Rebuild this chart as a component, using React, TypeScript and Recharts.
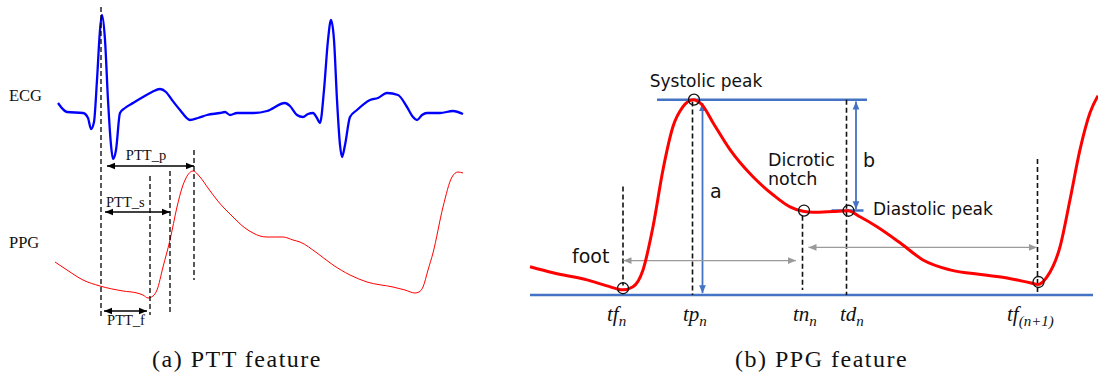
import { LineChart, Line, XAxis, YAxis, ReferenceLine, ReferenceDot } from 'recharts'

// ---------- (a) PTT feature : t in ms, ECG in mV, PPG in a.u.
const ecgData = [
  { t: -172, v: 0.1 }, { t: -136, v: 0.01 }, { t: -72, v: 0.0 }, { t: -52, v: -0.05 }, { t: -40, v: -0.16 },
  { t: -28, v: -0.09 }, { t: -16, v: 0.33 }, { t: -4, v: 0.83 }, { t: 4, v: 0.98 }, { t: 16, v: 0.73 },
  { t: 28, v: 0.13 }, { t: 40, v: -0.32 }, { t: 48, v: -0.46 }, { t: 60, v: -0.37 }, { t: 76, v: 0.0 },
  { t: 96, v: 0.05 }, { t: 128, v: 0.1 }, { t: 168, v: 0.16 }, { t: 204, v: 0.21 }, { t: 236, v: 0.24 },
  { t: 260, v: 0.21 }, { t: 284, v: 0.13 }, { t: 316, v: 0.03 }, { t: 356, v: -0.07 }, { t: 388, v: -0.05 },
  { t: 424, v: -0.02 }, { t: 476, v: 0.0 }, { t: 496, v: 0.01 }, { t: 516, v: -0.02 }, { t: 544, v: 0.0 },
  { t: 608, v: 0.0 }, { t: 664, v: 0.02 }, { t: 736, v: 0.1 }, { t: 756, v: 0.07 }, { t: 784, v: -0.02 },
  { t: 808, v: -0.04 }, { t: 828, v: -0.01 }, { t: 848, v: 0.0 }, { t: 864, v: -0.05 }, { t: 876, v: -0.1 },
  { t: 892, v: 0.23 }, { t: 908, v: 0.73 }, { t: 920, v: 0.93 }, { t: 932, v: 0.73 }, { t: 944, v: 0.13 },
  { t: 956, v: -0.32 }, { t: 964, v: -0.44 }, { t: 976, v: -0.32 }, { t: 996, v: -0.04 }, { t: 1024, v: 0.03 },
  { t: 1076, v: 0.13 }, { t: 1108, v: 0.15 }, { t: 1144, v: 0.2 }, { t: 1188, v: 0.18 }, { t: 1224, v: 0.06 },
  { t: 1248, v: -0.04 }, { t: 1264, v: -0.07 }, { t: 1284, v: -0.02 }, { t: 1304, v: 0.0 }, { t: 1356, v: 0.0 },
  { t: 1408, v: 0.02 }, { t: 1448, v: -0.01 },
]

const pttPpgData = [
  { t: -184, v: 0.36 }, { t: -136, v: 0.28 }, { t: -72, v: 0.18 }, { t: -4, v: 0.12 }, { t: 88, v: 0.07 },
  { t: 144, v: 0.05 }, { t: 168, v: 0.03 }, { t: 188, v: 0.0 }, { t: 208, v: 0.02 }, { t: 224, v: 0.08 },
  { t: 248, v: 0.31 }, { t: 276, v: 0.58 }, { t: 304, v: 0.91 }, { t: 324, v: 1.1 }, { t: 340, v: 1.2 },
  { t: 368, v: 1.27 }, { t: 396, v: 1.21 }, { t: 428, v: 1.1 }, { t: 464, v: 0.98 }, { t: 528, v: 0.81 },
  { t: 576, v: 0.7 }, { t: 608, v: 0.65 }, { t: 636, v: 0.62 }, { t: 664, v: 0.61 }, { t: 728, v: 0.61 },
  { t: 768, v: 0.58 }, { t: 796, v: 0.56 }, { t: 864, v: 0.45 }, { t: 928, v: 0.33 }, { t: 996, v: 0.23 },
  { t: 1064, v: 0.16 }, { t: 1168, v: 0.11 }, { t: 1216, v: 0.08 }, { t: 1256, v: 0.05 }, { t: 1272, v: 0.06 },
  { t: 1288, v: 0.11 }, { t: 1308, v: 0.28 }, { t: 1328, v: 0.45 }, { t: 1368, v: 0.91 }, { t: 1404, v: 1.21 },
  { t: 1428, v: 1.26 }, { t: 1448, v: 1.25 },
]

const pttGuides = [
  { t: 0, top: 2.91, bottom: -0.19 },
  { t: 196, top: 1.22, bottom: -0.17 },
  { t: 276, top: 1.27, bottom: -0.14 },
  { t: 372, top: 1.48, bottom: 0.18 },
]

const pttSpans = [
  { name: 'PTT_p', from: 24, to: 372, v: 1.32, lt: 180, lv: 1.38, anchor: 'middle' },
  { name: 'PTT_s', from: 16, to: 276, v: 0.86, lt: 20, lv: 0.913, anchor: 'start' },
  { name: 'PTT_f', from: 12, to: 184, v: -0.13, lt: 100, lv: -0.27, anchor: 'middle' },
]

// ---------- (b) PPG feature : t in ms from foot, amplitude in % of systolic peak
const ppgData = [
  { t: -186, a: 14.4 }, { t: -140, a: 11.3 }, { t: -72, a: 7.7 }, { t: -32, a: 4.6 }, { t: 0, a: 2.6 },
  { t: 20, a: 4.2 }, { t: 40, a: 12.8 }, { t: 60, a: 34.9 }, { t: 80, a: 64.1 }, { t: 100, a: 86.2 },
  { t: 120, a: 96.4 }, { t: 140, a: 100 }, { t: 158, a: 97.4 }, { t: 180, a: 88.2 }, { t: 214, a: 74.4 },
  { t: 260, a: 60.5 }, { t: 300, a: 51.3 }, { t: 334, a: 45.1 }, { t: 360, a: 42.8 }, { t: 380, a: 42.3 },
  { t: 420, a: 42.7 }, { t: 450, a: 43.1 }, { t: 474, a: 40 }, { t: 508, a: 34.9 }, { t: 554, a: 26.7 },
  { t: 600, a: 17.9 }, { t: 654, a: 12.8 }, { t: 720, a: 10.3 }, { t: 768, a: 8.7 }, { t: 814, a: 6.2 },
  { t: 830, a: 5.3 }, { t: 848, a: 9.2 }, { t: 874, a: 24.6 }, { t: 894, a: 48.7 }, { t: 914, a: 74.4 },
  { t: 934, a: 93.3 }, { t: 950, a: 102 },
]

const ppgGuides = [
  { t: 0, top: 55.5, bottom: 4.8 },
  { t: 139, top: 99, bottom: 0 },
  { t: 359, top: 40.5, bottom: 2.5 },
  { t: 447, top: 100, bottom: 0 },
  { t: 829, top: 69.6, bottom: 0 },
]

const ppgPoints = [
  { t: 0, a: 3.4 }, { t: 142, a: 100 }, { t: 362, a: 43.2 }, { t: 451, a: 43.1 }, { t: 831, a: 6.6 },
]

const ppgTimes = [
  { t: -32, base: 'tf', sub: 'n' },
  { t: 120, base: 'tp', sub: 'n' },
  { t: 340, base: 'tn', sub: 'n' },
  { t: 434, base: 'td', sub: 'n' },
  { t: 768, base: 'tf', sub: '(n+1)' },
]

const ppgTexts = [
  { text: 'Systolic peak', t: 166, a: 106.5, anchor: 'middle', size: 17 },
  { text: 'Dicrotic', t: 290, a: 66.2, anchor: 'start', size: 17.5 },
  { text: 'notch', t: 290, a: 56.4, anchor: 'start', size: 17.5 },
  { text: 'a', t: 174, a: 49.7, anchor: 'start', size: 19 },
  { text: 'b', t: 480, a: 65.6, anchor: 'start', size: 19 },
  { text: 'Diastolic peak', t: 500, a: 41, anchor: 'start', size: 17 },
  { text: 'foot', t: -102, a: 16.4, anchor: 'start', size: 19 },
]

const BLUE = '#4472c4'
const SANS = "'DejaVu Sans', sans-serif"
const SERIF = "'Liberation Serif', serif"

const arrow = (color: string, width: number, head: number) => (p: any) => {
  const { x1, y1, x2, y2 } = p
  const ang = Math.atan2(y2 - y1, x2 - x1)
  const hw = head * 0.42
  const tip = (x: number, y: number, a: number) => {
    const bx = x - head * Math.cos(a), by = y - head * Math.sin(a)
    const nx = -Math.sin(a) * hw, ny = Math.cos(a) * hw
    return `${x},${y} ${bx + nx},${by + ny} ${bx - nx},${by - ny}`
  }
  return (
    <g>
      <line x1={x1} y1={y1} x2={x2} y2={y2} stroke={color} strokeWidth={width} />
      <polygon points={tip(x2, y2, ang)} fill={color} />
      <polygon points={tip(x1, y1, ang + Math.PI)} fill={color} />
    </g>
  )
}

const textAt = (text: string, anchor: string, size: number, family: string) => (p: any) => (
  <text x={p.cx} y={p.cy} textAnchor={anchor} fontSize={size} fontFamily={family} fill="#111">{text}</text>
)

const mathAt = (base: string, sub: string) => (p: any) => (
  <text x={p.cx} y={p.cy} fontSize={21} fontFamily={SERIF} fontStyle="italic" fill="#111">
    {base}
    <tspan fontSize={15} dy={5}>{sub}</tspan>
  </text>
)

function PttPanel() {
  return (
    <div style={{ position: 'absolute', left: 51, top: 3 }}>
      <LineChart width={415} height={370} margin={{ top: 0, right: 0, bottom: 0, left: 0 }}>
        <XAxis type="number" dataKey="t" domain={[-200, 1460]} hide allowDataOverflow />
        <YAxis yAxisId="ecg" domain={[-2.6, 1.1]} hide allowDataOverflow />
        <YAxis yAxisId="ppg" domain={[-0.75, 2.95]} hide allowDataOverflow />
        <Line yAxisId="ecg" data={ecgData} dataKey="v" type="monotone" stroke="#0000ff" strokeWidth={2.3} dot={false} isAnimationActive={false} />
        <Line yAxisId="ppg" data={pttPpgData} dataKey="v" type="monotone" stroke="#ff0000" strokeWidth={1} dot={false} isAnimationActive={false} />
        {pttGuides.map((g, i) => (
          <ReferenceLine key={'g' + i} yAxisId="ppg" segment={[{ x: g.t, y: g.top }, { x: g.t, y: g.bottom }]}
            stroke="#000" strokeWidth={1.3} strokeDasharray="5 3" />
        ))}
        {pttSpans.map(s => (
          <ReferenceLine key={s.name} yAxisId="ppg" segment={[{ x: s.from, y: s.v }, { x: s.to, y: s.v }]}
            shape={arrow('#000', 1.5, 8)} />
        ))}
        {pttSpans.map(s => (
          <ReferenceDot key={'l' + s.name} yAxisId="ppg" x={s.lt} y={s.lv} r={0}
            shape={textAt(s.name, s.anchor, 14.5, SERIF)} />
        ))}
      </LineChart>
    </div>
  )
}

function PpgPanel() {
  return (
    <div style={{ position: 'absolute', left: 523, top: 2 }}>
      <LineChart width={575} height={371} margin={{ top: 0, right: 0, bottom: 0, left: 0 }}>
        <XAxis type="number" dataKey="t" domain={[-200, 950]} hide allowDataOverflow />
        <YAxis domain={[-40, 150]} hide allowDataOverflow />
        <ReferenceLine segment={[{ x: 68, y: 100 }, { x: 488, y: 100 }]} stroke={BLUE} strokeWidth={2.5} />
        <ReferenceLine segment={[{ x: -186, y: 0 }, { x: 940, y: 0 }]} stroke={BLUE} strokeWidth={2.5} />
        <ReferenceLine segment={[{ x: 417, y: 43.2 }, { x: 481, y: 43.2 }]} stroke={BLUE} strokeWidth={2.5} />
        {ppgGuides.map((g, i) => (
          <ReferenceLine key={'g' + i} segment={[{ x: g.t, y: g.top }, { x: g.t, y: g.bottom }]}
            stroke="#111" strokeWidth={1.6} strokeDasharray="5 3" />
        ))}
        <ReferenceLine segment={[{ x: 159, y: 98.3 }, { x: 159, y: 0.9 }]} shape={arrow(BLUE, 1.8, 8)} />
        <ReferenceLine segment={[{ x: 466, y: 99.1 }, { x: 466, y: 43.8 }]} shape={arrow(BLUE, 1.8, 8)} />
        <ReferenceLine segment={[{ x: 1, y: 17.6 }, { x: 346, y: 17.6 }]} shape={arrow('#9a9a9a', 1.3, 8)} />
        <ReferenceLine segment={[{ x: 371, y: 24.3 }, { x: 828, y: 24.3 }]} shape={arrow('#9a9a9a', 1.3, 8)} />
        <Line data={ppgData} dataKey="a" type="monotone" stroke="#ff0000" strokeWidth={3} dot={false} isAnimationActive={false} />
        {ppgPoints.map((p, i) => (
          <ReferenceDot key={'p' + i} x={p.t} y={p.a} r={5.5} fill="none" stroke="#111" strokeWidth={1.3} />
        ))}
        {ppgTexts.map(s => (
          <ReferenceDot key={s.text} x={s.t} y={s.a} r={0} shape={textAt(s.text, s.anchor, s.size, SANS)} />
        ))}
        {ppgTimes.map(s => (
          <ReferenceDot key={s.base + s.sub + s.t} x={s.t} y={-13.3} r={0} shape={mathAt(s.base, s.sub)} />
        ))}
      </LineChart>
    </div>
  )
}

export default function App() {
  return (
    <div style={{ position: 'absolute', left: 0, top: 0, width: 1101, height: 375, background: '#fff', overflow: 'hidden' }}>
      <svg width={1101} height={375} style={{ position: 'absolute', left: 0, top: 0 }}>
        <text x={9} y={101} fontFamily={SERIF} fontSize={16.5} fill="#111">ECG</text>
        <text x={9} y={248} fontFamily={SERIF} fontSize={16.5} fill="#111">PPG</text>
        <text x={152} y={367} fontFamily={SERIF} fontSize={24} letterSpacing={1.5} fill="#111">(a) PTT feature</text>
        <text x={735} y={367} fontFamily={SERIF} fontSize={24} letterSpacing={1.5} fill="#111">(b) PPG feature</text>
      </svg>
      <PttPanel />
      <PpgPanel />
    </div>
  )
}
